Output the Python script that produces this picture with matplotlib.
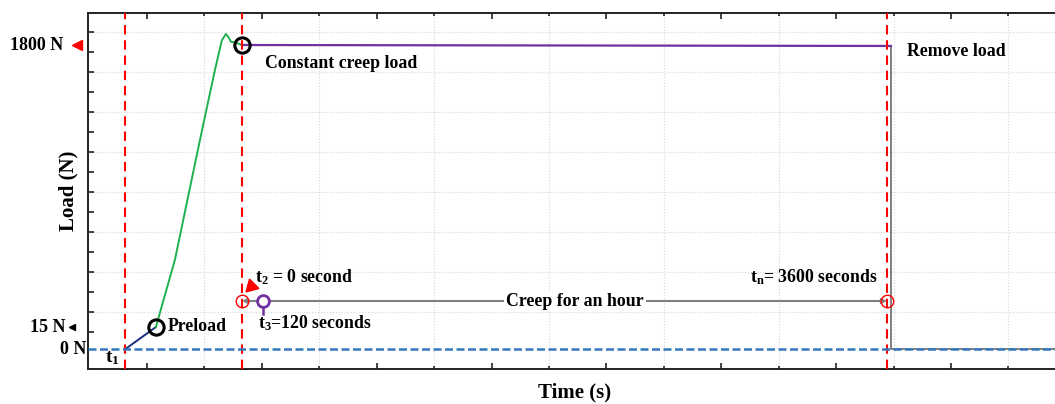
import numpy as np
import matplotlib.pyplot as plt
from matplotlib.ticker import FixedLocator, NullFormatter

plt.rcParams['font.family'] = ['Liberation Serif', 'DejaVu Serif']
plt.rcParams['font.weight'] = 'bold'
plt.rcParams['axes.labelweight'] = 'bold'
plt.rcParams['mathtext.fontset'] = 'custom'
plt.rcParams['mathtext.rm'] = 'Liberation Serif:bold'
plt.rcParams['mathtext.it'] = 'Liberation Serif:bold'
plt.rcParams['mathtext.bf'] = 'Liberation Serif:bold'

# key moments of the creep test, s (creep starts at t2 = 0)
t1 = -650
t_preload = -480
t2 = 0
t3 = 120
tn = 3600
t_unload = 3622

preload = 15        # N
creep_load = 1800   # N

# loading ramp from preload up to the creep load (small overshoot at the top)
ramp_t = [-480, -374, -234, -151, -112, -89, -73, -61, -45, -22, 0]
ramp_load = [15, 440, 1200, 1640, 1830, 1870, 1845, 1820, 1818, 1810, 1800]

# hold at constant load
hold_t = [0, 3622]
hold_load = [1800, 1794]

# unloading
unload_t = [3622, 3622, 4600]
unload_load = [1794, 0, 0]

GREEN = '#1fb050'
PURPLE = '#7030a0'
NAVY = '#1b2f7e'
GRAY = '#7f7f7f'
BLUE = '#3479c0'

# schematic load axis: 0..15 N and 15..1800 N get their own linear bands
LOW_SPAN = 22
HIGH_SPAN = 282


def to_axis(v):
    v = np.asarray(v, dtype=float)
    return np.where(v <= preload, v * LOW_SPAN / preload,
                    LOW_SPAN + (v - preload) * HIGH_SPAN / (creep_load - preload))


def from_axis(u):
    u = np.asarray(u, dtype=float)
    return np.where(u <= LOW_SPAN, u * preload / LOW_SPAN,
                    preload + (u - LOW_SPAN) * (creep_load - preload) / HIGH_SPAN)


fig = plt.figure(figsize=(10.55, 4.04), dpi=100)
ax = fig.add_axes([0.0834, 0.0866, 0.9232, 0.8812])
ax.set_yscale('function', functions=(to_axis, from_axis))

ax.set_xlim(-859, 4576)
ax.set_ylim(float(from_axis(-20)), float(from_axis(336)))

# ticks and grid
ax.xaxis.set_major_locator(FixedLocator(np.arange(-530, 4600, 641)))
ax.xaxis.set_minor_locator(FixedLocator(np.arange(-210, 4600, 641)))
ax.yaxis.set_major_locator(FixedLocator(from_axis(np.arange(37, 330, 40))))
ax.yaxis.set_minor_locator(FixedLocator(from_axis(np.arange(17, 330, 40))))
ax.xaxis.set_major_formatter(NullFormatter())
ax.xaxis.set_minor_formatter(NullFormatter())
ax.yaxis.set_major_formatter(NullFormatter())
ax.yaxis.set_minor_formatter(NullFormatter())
ax.tick_params(which='both', direction='in', top=True, right=False,
               width=1.2, color='#222222')
ax.tick_params(axis='x', which='major', length=4.5)
ax.tick_params(axis='x', which='minor', length=2)
ax.tick_params(axis='y', which='both', length=4.5)
ax.grid(axis='x', which='minor', linestyle=':', color='#d5d5d5', lw=0.8)
ax.grid(axis='y', which='major', linestyle=':', color='#d5d5d5', lw=0.8)
for side in ['left', 'bottom', 'top']:
    ax.spines[side].set_linewidth(1.4)
    ax.spines[side].set_color('#222222')
ax.spines['right'].set_visible(False)

# load history
ax.plot(unload_t, unload_load, color=GRAY, lw=1.4, zorder=2)
ax.plot([t1, t_preload], [0, preload], color=NAVY, lw=1.4, zorder=3)
ax.plot(ramp_t, ramp_load, color=GREEN, lw=1.4, zorder=3)
ax.plot(hold_t, hold_load, color=PURPLE, lw=1.6, zorder=3)

# zero load and event lines
ax.axhline(0, color=BLUE, lw=1.8, linestyle=(0, (3.2, 1.4)), zorder=4)
for t in [t1, t2, tn]:
    ax.axvline(t, color='red', lw=1.5, linestyle=(0, (4.5, 2.8)), zorder=3)

ax.plot([t_preload, t2], [preload, creep_load], 'o', ms=11, mfc='none',
        mec='black', mew=2.2, zorder=5)

# creep duration arrow
row = float(from_axis(48))
ax.annotate('', xy=(t2, row), xytext=(tn, row),
            arrowprops=dict(arrowstyle='<|-|>', color=GRAY, lw=1.5,
                            mutation_scale=7, shrinkA=0, shrinkB=0), zorder=3)
ax.plot([t2, tn], [row, row], 'o', ms=9, mfc='none', mec='red', mew=1,
        zorder=5)
ax.plot([t3, t3], [float(from_axis(42)), float(from_axis(35))], color=PURPLE,
        lw=1.8, zorder=5)
ax.plot(t3, row, 'o', ms=8.5, mfc='white', mec=PURPLE, mew=2, zorder=6)
ax.plot(52, float(from_axis(63)), marker=(3, 0, 135), ms=11, color='red',
        zorder=6)

# annotations
fs = 12.8
ax.text(1860, row, 'Creep for an hour', fontsize=fs, ha='center', va='center',
        bbox=dict(facecolor='white', edgecolor='none', pad=1.5), zorder=4)
ax.text(128, 1686, 'Constant creep load', fontsize=fs, va='center')
ax.text(3711, 1762, 'Remove load', fontsize=fs, va='center')
ax.text(-413, 21, 'Preload', fontsize=fs, va='center')
ax.text(73, 331, r't$_2$ = 0 second', fontsize=fs, va='center')
ax.text(89, 40, r't$_3$=120 seconds', fontsize=fs, va='center')
ax.text(3549, 331, r't$_n$= 3600 seconds', fontsize=fs, va='center', ha='right')
ax.text(-764, -6, r't$_1$', fontsize=fs + 1, va='center')

# load levels at the left of the axis
ytrans = ax.get_yaxis_transform()
for value, label, dx in [(creep_load, '1800 N', -25), (preload, '15 N', -22), (0, '0 N', -2)]:
    ax.annotate(label, xy=(0, value), xycoords=ytrans, xytext=(dx, 0),
                textcoords='offset pixels', ha='right', va='center',
                fontsize=13, annotation_clip=False)
ax.plot(-0.0113, creep_load, '<', ms=7, color='red', transform=ytrans,
        clip_on=False)
ax.plot(-0.0169, preload, '<', ms=5, color='black', transform=ytrans,
        clip_on=False)

ax.set_xlabel('Time (s)', fontsize=15, labelpad=6)
ax.set_ylabel('Load (N)', fontsize=15, labelpad=3)

fig.savefig('out.png', dpi=100)
